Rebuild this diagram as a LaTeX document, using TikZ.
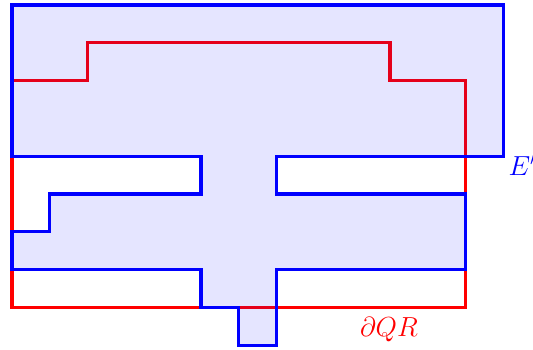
\documentclass[tikz,border=0pt]{standalone}
\begin{document}
\begin{tikzpicture}[x=1cm,y=1cm,
  qrline/.style={draw=red, line width=2.4pt},
  eregion/.style={draw=blue, line width=2.4pt, fill=blue, fill opacity=0.1, draw opacity=1},
  lbl/.style={anchor=base west, inner sep=0pt, font=\huge}]
\useasboundingbox (-0.317,-0.1) rectangle (13.783,9.133);
% boundary of QR
\draw[qrline] (0,7) -- (2,7) -- (2,8) -- (10,8) -- (10,7) -- (12,7) -- (12,1) -- (0,1) -- cycle;
% region E'
\draw[eregion] (0,9) -- (13,9) -- (13,5) -- (7,5) -- (7,4) -- (12,4) -- (12,2) -- (7,2) -- (7,0)
  -- (6,0) -- (6,1) -- (5,1) -- (5,2) -- (0,2) -- (0,3) -- (1,3) -- (1,4) -- (5,4) -- (5,5) -- (0,5) -- cycle;
\node[lbl, text=blue] (elabel) at (13.13,4.50) {$E'$};
\node[lbl, text=red] (qrlabel) at (9.2,0.22) {$\partial QR$};
\end{tikzpicture}
\end{document}
